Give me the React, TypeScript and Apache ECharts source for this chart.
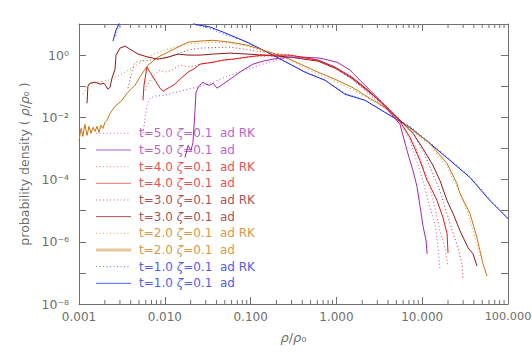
import React, { useEffect, useRef } from 'react';
import * as echarts from 'echarts';

// ---- data: [rho/rho0, probability density] ----
const t1Ad = [[0.00249,2.83],[0.0027,6.4],[0.00292,10],[0.00344,19.5],[0.00514,30],[0.00879,28],[0.015,18.1],[0.0197,12.5],[0.0231,9.6],[0.0336,8.0],[0.0476,5.5],[0.0908,2.62],[0.1395,1.45],[0.288,0.513],[0.43,0.283],[0.736,0.156],[1.26,0.0552],[2.15,0.0353],[3.68,0.0145],[7.21,0.00475],[12.3,0.00145],[21.1,4.1e-4],[36.1,1.16e-4],[61.7,2.1e-5],[80.7,1.0e-5],[100,5.5e-6]];
const t1AdRK = [[0.0027,4.1],[0.00292,10],[0.00344,16.8],[0.00514,30.5],[0.00879,28],[0.015,16.8],[0.0197,11.6],[0.0231,9.3],[0.0336,7.2],[0.0476,4.8],[0.0752,3.16],[0.1395,1.45],[0.288,0.51],[0.43,0.294],[0.736,0.156],[1.26,0.0594],[2.15,0.0353],[3.68,0.0145],[7.21,0.00513],[12.3,0.00156],[21.1,4.4e-4],[36.1,1.25e-4],[61.7,2.26e-5],[80.7,1.08e-5],[100,5.9e-6]];
const t2Ad = [[0.001,0.00181],[0.00106,0.00441],[0.00111,0.00244],[0.00117,0.00594],[0.00124,0.00262],[0.00131,0.00513],[0.00138,0.00305],[0.00146,0.00476],[0.00154,0.00353],[0.00162,0.00513],[0.00171,0.00328],[0.0018,0.00552],[0.0019,0.00441],[0.00201,0.0069],[0.00212,0.008],[0.0023,0.01346],[0.00263,0.0226],[0.00309,0.0328],[0.00372,0.064],[0.0045,0.1076],[0.00528,0.226],[0.00637,0.475],[0.00833,0.862],[0.0109,1.25],[0.01425,1.81],[0.01864,2.6],[0.0257,2.83],[0.0365,3.0],[0.0575,2.6],[0.0908,2.1],[0.1395,1.45],[0.252,0.862],[0.61,0.283],[0.963,0.168],[1.52,0.0929],[2.34,0.0442],[3.68,0.021],[5.51,0.008],[7.81,0.0038],[12.3,0.00145],[19.5,3.28e-4],[25.4,7.4e-5],[27.6,3.53e-5],[36.1,8.0e-6],[43.5,1.35e-6],[47.2,5.1e-7],[51.1,1.95e-7],[56.9,8e-8]];
const t2AdRK = [[0.00111,0.0552],[0.00127,0.1076],[0.00167,0.135],[0.00218,0.156],[0.00263,0.195],[0.00344,0.283],[0.00487,0.513],[0.0069,1.0],[0.01,1.45],[0.0131,1.81],[0.01864,2.26],[0.0257,2.44],[0.0365,2.6],[0.0575,2.44],[0.0908,1.95],[0.1395,1.35],[0.252,0.8],[0.61,0.24],[0.963,0.145],[1.52,0.08],[2.34,0.041],[3.68,0.0195],[5.51,0.008],[7.81,0.00353],[12.3,0.00125],[19.5,2.6e-4],[25.4,5.9e-5],[33.3,1e-5],[39.1,2.26e-6],[44.7,5.9e-7],[48.4,2.83e-7]];
const t3Ad = [[0.00124,0.0283],[0.00127,0.1],[0.00134,0.125],[0.00154,0.135],[0.00176,0.116],[0.00196,0.125],[0.00218,0.08],[0.0023,0.0929],[0.00242,0.18],[0.00263,0.353],[0.0027,1.0],[0.00301,1.68],[0.00344,1.95],[0.00487,1.08],[0.00637,0.862],[0.00833,0.743],[0.0109,0.862],[0.01425,1.08],[0.01864,1.0],[0.0257,1.0],[0.0365,1.08],[0.0575,1.16],[0.0908,1.08],[0.1395,1.0],[0.288,0.862],[0.61,0.64],[0.963,0.38],[1.52,0.18],[2.34,0.069],[3.68,0.0244],[5.51,0.008],[7.81,0.00305],[10.2,0.001],[13.4,2.8e-4],[16.1,9.3e-5],[19.5,2.1e-5],[22.9,8.0e-6],[27.6,2.26e-6],[34.2,6.4e-7],[39.1,4.1e-7],[43.5,1.68e-7]];
const t3AdRK = [[0.00372,0.0865],[0.00404,0.226],[0.00438,0.513],[0.00487,0.64],[0.00672,0.69],[0.01,0.8],[0.0131,1.0],[0.01864,1.45],[0.0257,1.68],[0.0575,1.81],[0.1395,1.25],[0.288,1.0],[0.61,0.69],[0.963,0.41],[1.52,0.195],[2.34,0.0743],[3.68,0.026],[5.51,0.0086],[7.81,0.00328],[10.8,5.9e-4],[16.1,4.4e-5],[21.1,3.8e-6],[26.1,6.4e-7],[29.1,1.95e-7],[29.9,6.4e-8]];
const t4Ad = [[0.00557,0.0353],[0.00572,0.1076],[0.0062,0.41],[0.00672,0.283],[0.00769,0.156],[0.00879,0.0865],[0.00952,0.069],[0.0109,0.0865],[0.0131,0.116],[0.01544,0.18],[0.01864,0.283],[0.0225,0.38],[0.0257,0.513],[0.0365,0.59],[0.0476,0.69],[0.0623,0.743],[0.0908,0.862],[0.1395,1.0],[0.288,1.0],[0.61,0.69],[0.963,0.41],[1.52,0.195],[2.34,0.0743],[3.68,0.0226],[5.51,0.00743],[7.21,0.00226],[9.42,4.1e-4],[11.4,9.3e-5],[12.3,6.4e-5],[14.9,2.1e-5],[17.5,5.9e-6],[19.5,1.81e-6],[20.0,4.4e-7]];
const t4AdRK = [[0.00588,0.074],[0.00672,0.156],[0.00769,0.244],[0.00879,0.33],[0.01,0.283],[0.01213,0.33],[0.015,0.475],[0.0197,0.41],[0.0257,0.513],[0.0365,0.59],[0.0908,0.862],[0.288,1.0],[0.61,0.69],[0.963,0.38],[1.52,0.168],[2.34,0.064],[3.68,0.021],[5.51,0.0069],[8.24,0.00125],[11.7,9.3e-5],[14.1,1.25e-5],[16.1,2.26e-6],[18.4,6.4e-7],[20.0,1.68e-7]];
const t5Ad = [[0.0172,5.1e-4],[0.01864,0.00125],[0.0202,8.6e-4],[0.0213,0.00156],[0.0225,0.0168],[0.0231,0.064],[0.025,0.1],[0.0279,0.135],[0.0302,0.116],[0.0336,0.1076],[0.0365,0.125],[0.0406,0.0865],[0.0476,0.116],[0.0623,0.195],[0.0815,0.33],[0.1067,0.513],[0.1395,0.64],[0.1824,0.743],[0.288,0.862],[0.408,0.862],[0.644,0.8],[1.02,0.59],[1.44,0.33],[1.88,0.156],[2.46,0.0743],[3.22,0.0353],[4.21,0.0145],[5.51,0.00594],[6.65,8.6e-4],[7.81,1.95e-4],[8.7,5.9e-5],[9.42,1.45e-5],[10.2,3.3e-6],[11.1,1.08e-6],[11.4,4.1e-7]];
const t5AdRK = [[0.00557,0.00305],[0.00588,0.0093],[0.0062,0.0244],[0.00672,0.041],[0.00769,0.048],[0.01,0.0513],[0.015,0.069],[0.0237,0.0929],[0.0365,0.135],[0.0575,0.226],[0.0908,0.353],[0.1395,0.513],[0.22,0.743],[0.288,0.862],[0.61,0.69],[0.963,0.41],[1.52,0.168],[2.34,0.0595],[3.68,0.0195],[5.51,0.0064],[7.21,0.00181],[10.2,9.3e-5],[12.3,1.25e-5],[14.1,3.8e-6],[15.3,6.4e-7],[16.1,1.35e-7]];

// axis ticks
const xMin = 0.001, xMax = 100, yMin = 1e-8, yMax = 10;
const xDecades = [0.001, 0.01, 0.1, 1, 10];
const minorMultipliers = [2, 3, 4, 5, 6, 7, 8, 9];

const AXIS_COLOR = '#707070';
const LABEL_COLOR = '#6e6e6e';
const FONT = 'DejaVu Sans';

type Def = { t: string; rk: boolean; data: number[][]; color: string; legendColor: string; textColor: string; legendWidth: number; z: number };
const defs: Def[] = [
  { t: '5.0', rk: true, data: t5AdRK, color: '#b050c0', legendColor: '#c070d0', textColor: '#b868c8', legendWidth: 1, z: 7 },
  { t: '5.0', rk: false, data: t5Ad, color: '#a028a8', legendColor: '#b060c0', textColor: '#b868c8', legendWidth: 1, z: 8 },
  { t: '4.0', rk: true, data: t4AdRK, color: '#e85050', legendColor: '#f08080', textColor: '#e65555', legendWidth: 1, z: 9 },
  { t: '4.0', rk: false, data: t4Ad, color: '#e01818', legendColor: '#f07070', textColor: '#e65555', legendWidth: 1, z: 10 },
  { t: '3.0', rk: true, data: t3AdRK, color: '#a83838', legendColor: '#c07070', textColor: '#ad5555', legendWidth: 1, z: 5 },
  { t: '3.0', rk: false, data: t3Ad, color: '#901818', legendColor: '#a05050', textColor: '#ad5555', legendWidth: 1, z: 6 },
  { t: '2.0', rk: true, data: t2AdRK, color: '#d89040', legendColor: '#e0a860', textColor: '#d69a4a', legendWidth: 1, z: 3 },
  { t: '2.0', rk: false, data: t2Ad, color: '#c87410', legendColor: '#e8c898', textColor: '#d69a4a', legendWidth: 3, z: 4 },
  { t: '1.0', rk: true, data: t1AdRK, color: '#5060f0', legendColor: '#6070f0', textColor: '#5060e8', legendWidth: 1, z: 1 },
  { t: '1.0', rk: false, data: t1Ad, color: '#1828e0', legendColor: '#5060f0', textColor: '#5060e8', legendWidth: 1, z: 2 },
];

const supDigits: Record<string, string> = { '0': '⁰', '1': '¹', '2': '²', '3': '³', '4': '⁴', '5': '⁵', '6': '⁶', '7': '⁷', '8': '⁸', '9': '⁹', '-': '⁻' };
const toSup = (n: number) => String(n).split('').map((c) => supDigits[c] || c).join('');

export default function App() {
  const ref = useRef<HTMLDivElement>(null);
  useEffect(() => {
    if (!ref.current) return;
    const chart = echarts.init(ref.current, undefined, { renderer: 'svg' });
    const minorTicks: number[][] = [];
    xDecades.forEach((d) => minorMultipliers.forEach((m) => minorTicks.push([d * m, 1])));

    const legendTop = 133.3;
    const legendStep = 16.67;
    const graphic: any[] = [];
    defs.forEach((d, i) => {
      const y = legendTop + i * legendStep;
      graphic.push({
        type: 'line',
        shape: { x1: 96, y1: y, x2: 131, y2: y },
        style: { stroke: d.legendColor, lineWidth: d.legendWidth, lineDash: d.rk ? [1, 2.5] : null },
        silent: true,
      });
      graphic.push({
        type: 'text',
        x: 139,
        y: y,
        style: {
          text: `t=${d.t} {i|ζ}=0.1  ad${d.rk ? ' RK' : ''}`,
          fill: d.textColor,
          fontSize: 12,
          fontFamily: FONT,
          verticalAlign: 'middle',
          rich: { i: { fontStyle: 'italic', fontSize: 12, fontFamily: FONT, fill: d.textColor } },
        },
        silent: true,
      });
    });

    const lineSeries = [...defs].sort((a, b) => a.z - b.z).map((d) => ({
      type: 'line',
      name: `t=${d.t} ${d.rk ? 'RK' : 'ad'}`,
      data: d.data,
      symbol: 'none',
      showSymbol: false,
      silent: true,
      clip: true,
      z: 2 + d.z * 0.01,
      lineStyle: { color: d.color, width: 1, type: d.rk ? [1, 2.5] : 'solid' },
    }));

    const tickSeries = {
      type: 'custom',
      silent: true,
      clip: false,
      data: minorTicks,
      encode: { x: 0, y: 1 },
      renderItem: (_params: any, api: any) => {
        const x = api.value(0);
        const pb = api.coord([x, yMin]);
        const pt = api.coord([x, yMax]);
        return {
          type: 'group',
          children: [
            { type: 'line', shape: { x1: pb[0], y1: pb[1], x2: pb[0], y2: pb[1] - 4 }, style: { stroke: AXIS_COLOR, lineWidth: 1 } },
            { type: 'line', shape: { x1: pt[0], y1: pt[1], x2: pt[0], y2: pt[1] + 4 }, style: { stroke: AXIS_COLOR, lineWidth: 1 } },
          ],
        };
      },
    };

    const axisCommon = {
      type: 'log',
      logBase: 10,
      splitLine: { show: false },
      axisLine: { show: true, lineStyle: { color: AXIS_COLOR, width: 1 } },
      axisTick: { show: true, inside: true, length: 7, lineStyle: { color: AXIS_COLOR, width: 1 } },
      minorTick: { show: false },
    };

    chart.setOption({
      animation: false,
      backgroundColor: '#ffffff',
      grid: { left: 79, right: 24, top: 24, bottom: 50, containLabel: false, outerBoundsMode: 'none' },
      xAxis: [
        {
          ...axisCommon,
          position: 'bottom',
          min: xMin,
          max: xMax,
          splitNumber: 5,
          axisLabel: {
            color: LABEL_COLOR,
            fontSize: 12,
            fontFamily: FONT,
            margin: 7,
            showMinLabel: true,
            showMaxLabel: true,
            hideOverlap: false,
            formatter: (v: number) => (v > 50 ? '{m|' + v.toFixed(3) + '}' : v.toFixed(3)),
            rich: { m: { fontSize: 11.3, fontFamily: FONT, color: LABEL_COLOR } },
          },
          name: '{i|ρ}/{i|ρ}₀',
          nameLocation: 'middle',
          nameGap: 27,
          nameTextStyle: {
            color: LABEL_COLOR,
            fontSize: 13,
            fontFamily: FONT,
            rich: { i: { fontStyle: 'italic', fontSize: 13, fontFamily: FONT, color: LABEL_COLOR } },
          },
        },
        {
          ...axisCommon,
          position: 'top',
          min: xMin,
          max: xMax,
          splitNumber: 5,
          axisLabel: { show: false },
        },
      ],
      yAxis: [
        {
          ...axisCommon,
          position: 'left',
          min: yMin,
          max: yMax,
          splitNumber: 9,
          axisLabel: {
            color: LABEL_COLOR,
            fontSize: 12.5,
            fontFamily: FONT,
            margin: 10,
            showMinLabel: true,
            hideOverlap: false,
            formatter: (v: number) => {
              const e = Math.round(Math.log10(v));
              if (e % 2 !== 0 || e > 0) return '';
              return '10' + toSup(e);
            },
          },
          name: 'probability density ( {i|ρ}/{i|ρ}₀ )',
          nameLocation: 'middle',
          nameRotate: 90,
          nameGap: 44,
          nameTextStyle: {
            color: LABEL_COLOR,
            fontSize: 12.5,
            fontFamily: FONT,
            rich: { i: { fontStyle: 'italic', fontSize: 12.5, fontFamily: FONT, color: LABEL_COLOR } },
          },
        },
        {
          ...axisCommon,
          position: 'right',
          min: yMin,
          max: yMax,
          splitNumber: 9,
          axisLabel: { show: false },
        },
      ],
      series: [...lineSeries, tickSeries],
      graphic,
    });
    return () => chart.dispose();
  }, []);
  return <div ref={ref} style={{ position: 'fixed', left: 0, top: 0, width: 532, height: 354 }} />;
}
